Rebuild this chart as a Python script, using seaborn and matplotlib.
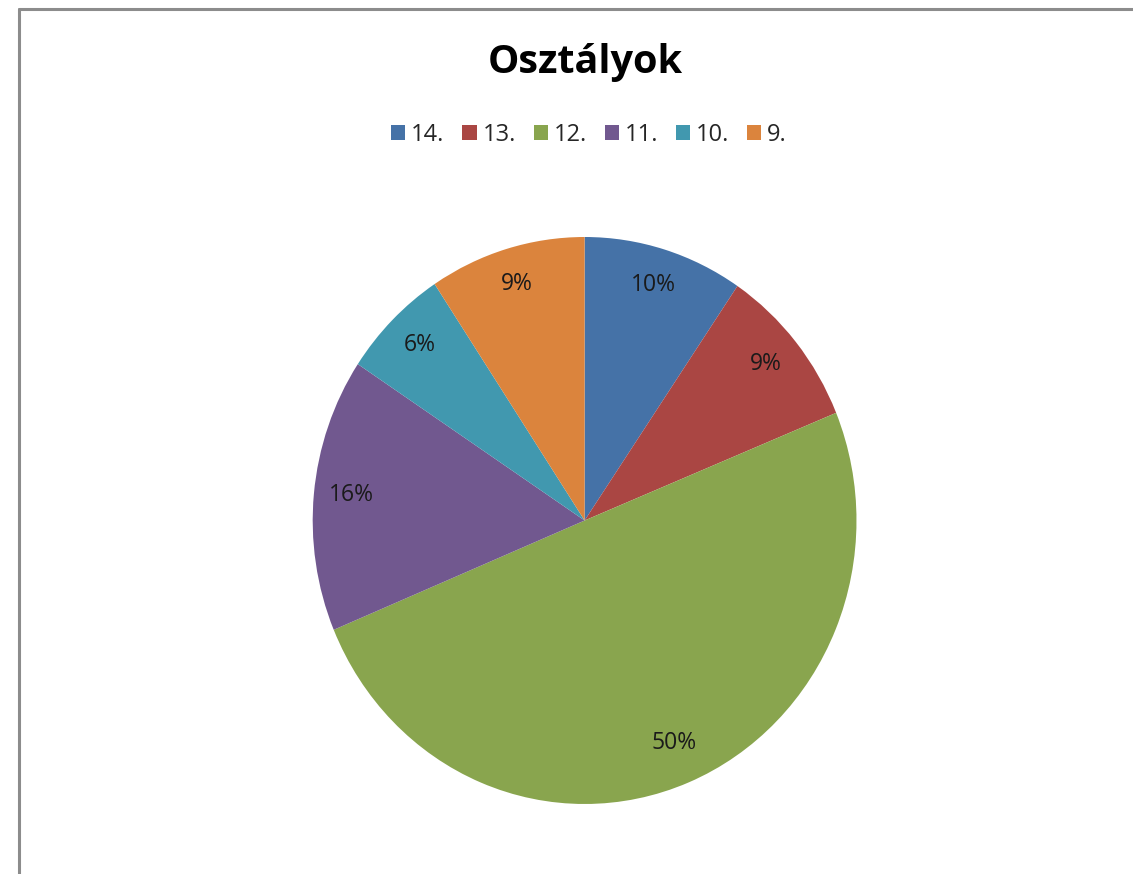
import matplotlib
matplotlib.use("Agg")
import matplotlib.pyplot as plt
from matplotlib.patches import Patch
from matplotlib.lines import Line2D
import numpy as np
import seaborn as sns

# data (percent)
classes = ["14.", "13.", "12.", "11.", "10.", "9."]
shares = [9.5, 9.3, 49.9, 15.6, 6.4, 9.3]
pct_labels = ["10%", "9%", "50%", "16%", "6%", "9%"]
colors = ["#4572A7", "#AA4643", "#89A54E", "#71588F", "#4198AF", "#DB843D"]

sns.set_theme(style="white")
plt.rcParams["font.family"] = ["Open Sans", "DejaVu Sans"]
palette = sns.color_palette(colors)

W, H = 1133, 874
fig = plt.figure(figsize=(W / 100, H / 100), dpi=100)

# pie area (slightly wider-than-tall ellipse like the original)
left, right, top, bottom = 312.7, 856.5, 237.0, 804.0
ax = fig.add_axes([left / W, 1 - bottom / H, (right - left) / W, (bottom - top) / H])

wedges, _ = ax.pie(shares, colors=palette, startangle=90, counterclock=False,
                   wedgeprops=dict(linewidth=0))
ax.set_aspect("auto")
ax.set_xlim(-1, 1)
ax.set_ylim(-1, 1)
ax.axis("off")

# percentage labels
cum = 0
for val, lab in zip(shares, pct_labels):
    mid = 90 - (cum + val / 2) * 3.6
    r = 0.86
    ax.text(r * np.cos(np.radians(mid)), r * np.sin(np.radians(mid)) + 0.01, lab,
            ha="center", va="center", fontsize=16.5, color="#1a1a1a")
    cum += val

# title
fig.text(585 / W, 1 - 62 / H, "Osztályok", ha="center", va="center",
         fontsize=28.5, fontweight="bold", color="black")

# legend
handles = [Patch(facecolor=c, edgecolor="none") for c in palette]
fig.legend(handles, classes, loc="center", bbox_to_anchor=(589 / W, 1 - 135 / H),
           ncol=6, frameon=False, fontsize=17, handlelength=0.6, handleheight=0.6,
           handletextpad=0.25, columnspacing=0.75, borderpad=0)

# chart-area frame (only left and top edges are visible)
frame_kw = dict(color="#8c8c8c", linewidth=2.2, transform=fig.transFigure)
fig.add_artist(Line2D([19 / W, 19 / W], [0, 1 - 9 / H], **frame_kw))
fig.add_artist(Line2D([19 / W, 1], [1 - 9 / H, 1 - 9 / H], **frame_kw))

fig.savefig("out.png", dpi=100, facecolor="white")
